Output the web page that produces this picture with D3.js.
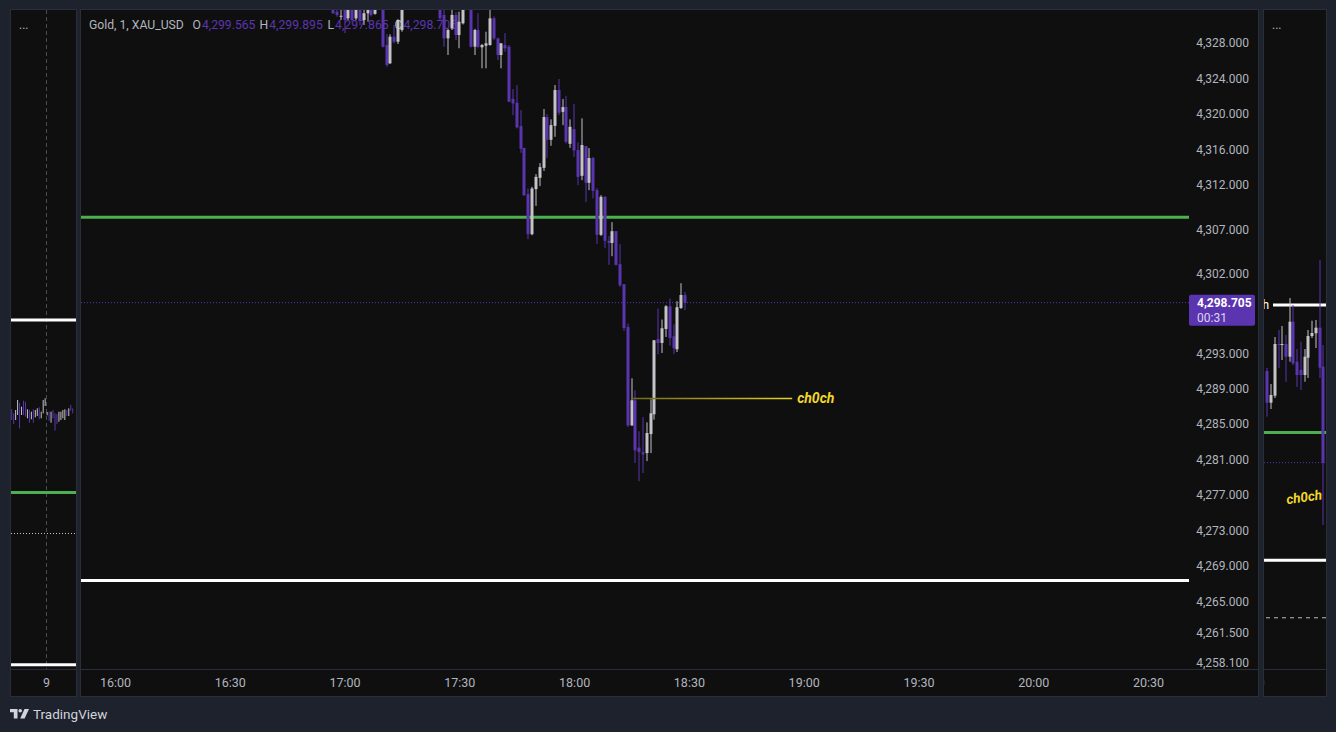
<!DOCTYPE html>
<html>
<head>
<meta charset="utf-8">
<script src="https://cdn.jsdelivr.net/npm/d3@7"></script>
<style>
html, body { margin: 0; padding: 0; background: #1e222d; overflow: hidden; }
svg { display: block; font-family: Roboto, "DejaVu Sans", sans-serif; }
</style>
</head>
<body>
<svg id="chart"></svg>
<script>
// ---- data ----
var symbolTitle = "Gold, 1, XAU_USD";
var legendKeys = ["O", "H", "L", "C"];
var legendValues = [4299.565, 4299.895, 4297.865, 4298.705];

var firstCandle = "16:57";   // 1 minute bars
var opens = [4332.3, 4331.54, 4331.02, 4331.9, 4330.79, 4331.9, 4330.79, 4331.9, 4330.6, 4331.36,
    4331.8, 4331.3, 4332.4, 4332.6, 4327.78, 4325.71, 4328.71, 4328.15, 4329.47, 4331.9,
    4332.6, 4333.8, 4333.2, 4334.9, 4334.3, 4333.4, 4333.9, 4332.8, 4332.4, 4331.17,
    4328.53, 4329.66, 4331.17, 4328.91, 4330.23, 4332.0, 4332.4, 4327.59, 4329.47, 4327.52,
    4327.7, 4327.78, 4330.79, 4328.53, 4326.65, 4327.78, 4327.59, 4321.68, 4321.26, 4318.63,
    4316.15, 4310.95, 4306.43, 4311.52, 4312.79, 4313.92, 4319.65, 4317.08, 4318.66, 4322.7,
    4320.24, 4320.78, 4316.63, 4318.29, 4315.92, 4313.02, 4316.37, 4312.23, 4315.02, 4311.4,
    4306.36, 4310.65, 4305.68, 4305.45, 4306.77, 4303.05, 4300.78, 4295.97, 4284.86, 4287.69,
    4282.35, 4281.82, 4281.74, 4283.88, 4286.11, 4294.58, 4294.16, 4295.74, 4298.3, 4294.92,
    4293.45, 4298.11, 4299.565];
var highs = [4332.8, 4332.0, 4332.0, 4332.2, 4332.3, 4332.4, 4332.3, 4332.2, 4331.9, 4332.4,
    4332.3, 4332.6, 4333.3, 4333.0, 4329.0, 4328.99, 4330.04, 4330.7, 4332.5, 4333.0,
    4334.1, 4334.6, 4335.2, 4335.6, 4334.8, 4334.2, 4334.3, 4333.6, 4332.8, 4331.8,
    4329.6, 4331.8, 4331.5, 4331.54, 4332.6, 4333.0, 4332.9, 4329.6, 4331.36, 4327.9,
    4329.28, 4331.73, 4331.0, 4328.6, 4328.0, 4329.13, 4327.78, 4322.81, 4323.26, 4320.44,
    4316.2, 4311.59, 4311.78, 4313.21, 4314.45, 4320.55, 4319.98, 4319.39, 4323.26, 4323.94,
    4321.68, 4322.02, 4319.39, 4321.12, 4316.79, 4319.5, 4316.4, 4316.15, 4315.17, 4311.63,
    4310.84, 4310.73, 4306.21, 4307.79, 4306.8, 4305.3, 4300.8, 4296.35, 4290.17, 4288.82,
    4284.19, 4285.8, 4285.2, 4287.8, 4294.5, 4298.04, 4296.8, 4298.42, 4299.17, 4296.27,
    4298.87, 4300.9, 4299.895];
var lows = [4331.28, 4330.97, 4330.6, 4329.13, 4330.6, 4330.41, 4330.6, 4330.04, 4330.04, 4330.41,
    4331.0, 4331.2, 4332.0, 4327.5, 4325.33, 4325.65, 4327.97, 4327.89, 4329.28, 4331.75,
    4332.3, 4333.0, 4333.0, 4334.0, 4333.1, 4332.6, 4332.5, 4332.1, 4330.6, 4327.59,
    4326.65, 4329.47, 4328.34, 4327.41, 4330.1, 4331.8, 4327.5, 4326.65, 4327.41, 4325.15,
    4325.15, 4327.7, 4328.34, 4326.08, 4325.15, 4327.02, 4321.35, 4319.87, 4318.37, 4315.62,
    4310.73, 4305.87, 4306.32, 4309.63, 4311.86, 4313.58, 4315.05, 4316.41, 4317.42, 4319.87,
    4318.74, 4316.68, 4316.18, 4315.17, 4311.97, 4312.53, 4310.08, 4311.4, 4310.47, 4305.34,
    4306.24, 4304.89, 4302.97, 4303.95, 4302.9, 4300.48, 4295.51, 4284.67, 4284.8, 4280.61,
    4278.57, 4279.48, 4280.83, 4281.74, 4285.51, 4292.88, 4293.03, 4294.84, 4293.86, 4292.92,
    4293.14, 4298.0, 4297.865];
var closes = [4331.36, 4331.17, 4331.08, 4330.6, 4331.9, 4330.6, 4331.9, 4330.6, 4331.36, 4331.9,
    4331.17, 4332.2, 4332.9, 4327.59, 4325.52, 4328.71, 4328.15, 4330.6, 4331.9, 4332.6,
    4333.8, 4333.2, 4334.9, 4334.3, 4333.4, 4333.9, 4332.8, 4332.5, 4330.79, 4328.53,
    4329.47, 4331.17, 4328.91, 4330.41, 4332.0, 4332.5, 4327.59, 4329.47, 4327.59, 4327.78,
    4327.97, 4330.79, 4328.53, 4326.65, 4327.97, 4327.41, 4321.38, 4321.19, 4318.48, 4316.07,
    4310.84, 4306.43, 4311.59, 4312.9, 4314.0, 4319.65, 4317.08, 4318.74, 4322.7, 4320.13,
    4320.78, 4316.86, 4318.55, 4315.89, 4312.9, 4316.49, 4312.23, 4315.02, 4311.32, 4306.36,
    4310.65, 4305.68, 4305.45, 4306.77, 4302.97, 4300.67, 4295.85, 4284.86, 4287.69, 4282.04,
    4281.85, 4281.59, 4284.0, 4286.22, 4294.46, 4294.16, 4295.82, 4298.3, 4294.72, 4293.56,
    4298.19, 4299.57, 4298.705];

var priceTicks = [4328, 4324, 4320, 4316, 4312, 4307, 4302, 4293, 4289, 4285, 4281, 4277, 4273, 4269, 4265, 4261.5, 4258.1];
var timeTicks = ["16:00", "16:30", "17:00", "17:30", "18:00", "18:30", "19:00", "19:30", "20:00", "20:30"];
var countdown = "00:31";

// horizontal levels
var greenLevel = 4308.35;
var whiteLevels = [4349.35, 4267.36];
var dashedLevel = 4249.05;
var chochLevel = 4287.9;
var chochStart = "18:15";
var chochEnd = "18:57";
var chochLabel = "ch0ch";

// left mini chart (bars, hi / lo / up)
var leftHighs = [4328.12, 4327.16, 4327.95, 4330.33, 4329.68, 4328.73, 4330.16, 4329.92, 4328.12, 4327.95,
    4327.54, 4328.12, 4327.95, 4328.35, 4328.59, 4327.54, 4330.33, 4330.73, 4327.47, 4327.54,
    4327.54, 4327.95, 4327.16, 4327.0, 4327.54, 4327.54, 4327.95, 4328.12, 4327.95, 4328.35,
    4329.14, 4328.35];
var leftLows = [4325.57, 4324.62, 4325.57, 4326.76, 4323.6, 4326.76, 4326.76, 4326.36, 4325.98, 4324.93,
    4325.74, 4324.93, 4326.21, 4326.52, 4325.74, 4325.98, 4327.16, 4328.9, 4326.69, 4325.4,
    4324.93, 4325.98, 4323.03, 4324.62, 4325.17, 4325.57, 4325.98, 4325.57, 4326.52, 4326.52,
    4327.78, 4327.16];
var leftUp = [0, 0, 1, 1, 0, 1, 0, 0, 1, 0, 1, 0, 1, 1, 0, 1, 1, 1, 1, 0, 1, 0, 0, 0, 1, 1, 1, 1, 0, 1, 0, 0];
var leftTimeLabel = "9";

// right mini chart (candles)
var rightOpens = [4328.14, 4317.96, 4320.21, 4336.81, 4336.49, 4336.81, 4332.73, 4343.97, 4331.13, 4328.5, 4326.86, 4332.41, 4339.38, 4340.25, 4342.05, 4329.52];
var rightHighs = [4329.10, 4323.96, 4339.06, 4341.31, 4342.59, 4339.70, 4351.58, 4349.34, 4335.20, 4337.55, 4335.20, 4341.31, 4344.30, 4344.52, 4363.79, 4336.49];
var rightLows = [4313.46, 4315.94, 4319.47, 4329.10, 4331.67, 4324.70, 4331.13, 4330.07, 4323.00, 4322.04, 4324.70, 4325.89, 4338.74, 4335.52, 4325.89, 4278.69];
var rightCloses = [4317.96, 4320.43, 4336.81, 4336.49, 4336.81, 4332.73, 4343.97, 4330.61, 4326.86, 4326.86, 4332.73, 4339.38, 4340.34, 4342.05, 4329.20, 4298.705];

// ---- colours ----
var bgColor = "#0f0f0f";
var frameColor = "#2a2e39";
var upColor = "#c4c4c8";
var downColor = "#5b35b0";
var textColor = "#b2b5be";
var greenColor = "#4caf50";
var yellowColor = "#f2d72a";

var width = 1336, height = 732;
var svg = d3.select("#chart").attr("width", width).attr("height", height);
var defs = svg.append("defs");

function addClip(id, x, y, w, h) {
    defs.append("clipPath").attr("id", id)
        .append("rect").attr("x", x).attr("y", y).attr("width", w).attr("height", h);
}
addClip("clipMain", 81, 10, 1108, 659);
addClip("clipLeft", 11, 10, 65, 659);
addClip("clipRight", 1264, 10, 62, 659);
addClip("clipRightAxis", 1264, 669, 62, 27);

var grad = defs.append("linearGradient").attr("id", "chochGrad")
    .attr("gradientUnits", "userSpaceOnUse").attr("x1", 630).attr("x2", 795).attr("y1", 0).attr("y2", 0);
grad.append("stop").attr("offset", "0%").attr("stop-color", "#6e661c");
grad.append("stop").attr("offset", "100%").attr("stop-color", "#e8d324");

// ---- panels ----
svg.append("rect").attr("width", width).attr("height", height).style("fill", "#1e222d");
var panels = [[10.5, 9.5, 66, 687], [80.5, 9.5, 1178, 687], [1263.5, 9.5, 63, 687]];
panels.forEach(function (p) {
    svg.append("rect").attr("x", p[0]).attr("y", p[1]).attr("width", p[2]).attr("height", p[3])
        .style("fill", bgColor).style("stroke", frameColor).style("stroke-width", 1);
    svg.append("line").attr("x1", p[0]).attr("x2", p[0] + p[2]).attr("y1", 669.5).attr("y2", 669.5)
        .style("stroke", frameColor).style("stroke-width", 1);
});

// ---- scales ----
var parseTime = d3.timeParse("%H:%M");
var x = d3.scaleTime().domain([parseTime("16:00"), parseTime("20:30")]).range([115, 1148]);
var y = d3.scaleLinear().domain([4331.73, 4257.37]).range([10, 669]);
var t0 = parseTime(firstCandle);

var candles = opens.map(function (o, i) {
    return { t: d3.timeMinute.offset(t0, i), o: o, h: highs[i], l: lows[i], c: closes[i] };
});

// ---- legend (drawn under the candles) ----
var legend = svg.append("g").style("font-size", "12.2px");
legend.append("text").attr("x", 89).attr("y", 28.5).style("fill", textColor).text(symbolTitle);
var legendX = [192.5, 259.5, 327.5, 394.5];
legendKeys.forEach(function (k, i) {
    var t = legend.append("text").attr("x", legendX[i]).attr("y", 28.5);
    t.append("tspan").style("fill", textColor).text(k);
    t.append("tspan").attr("dx", 1).style("fill", downColor).text(d3.format(",.3f")(legendValues[i]));
});

// ---- main chart ----
var main = svg.append("g").attr("clip-path", "url(#clipMain)");

// levels
main.append("line").attr("x1", 81).attr("x2", 1189).attr("y1", y(greenLevel)).attr("y2", y(greenLevel))
    .style("stroke", greenColor).style("stroke-width", 3);
main.append("line").attr("x1", 81).attr("x2", 1189).attr("y1", y(whiteLevels[1])).attr("y2", y(whiteLevels[1]))
    .style("stroke", "#ffffff").style("stroke-width", 3);
main.append("line").attr("x1", 81).attr("x2", 1189).attr("y1", y(legendValues[3])).attr("y2", y(legendValues[3]))
    .style("stroke", downColor).style("stroke-width", 1).style("stroke-dasharray", "1,2");

// candles
var bar = main.selectAll("g.candle").data(candles).enter().append("g").attr("class", "candle");
bar.append("rect")
    .attr("x", function (d) { return Math.round(x(d.t)) - 0.5; })
    .attr("y", function (d) { return y(d.h); })
    .attr("width", 1)
    .attr("height", function (d) { return Math.max(1, y(d.l) - y(d.h)); })
    .style("fill", function (d) { return d.c >= d.o ? upColor : downColor; });
bar.append("rect")
    .attr("x", function (d) { return Math.round(x(d.t)) - 1.5; })
    .attr("y", function (d) { return y(Math.max(d.o, d.c)); })
    .attr("width", 3)
    .attr("height", function (d) { return Math.max(1, Math.abs(y(d.o) - y(d.c))); })
    .style("fill", function (d) { return d.c >= d.o ? upColor : downColor; });

// choch
main.append("line")
    .attr("x1", x(parseTime(chochStart))).attr("x2", x(parseTime(chochEnd)))
    .attr("y1", y(chochLevel)).attr("y2", y(chochLevel))
    .style("stroke", "url(#chochGrad)").style("stroke-width", 1.5);
main.append("text")
    .attr("x", x(parseTime(chochEnd)) + 5).attr("y", y(chochLevel)).attr("dy", "0.35em")
    .style("fill", yellowColor).style("font-size", "14px").style("font-weight", "bold").style("font-style", "italic")
    .text(chochLabel);

// price axis
var yAxis = svg.append("g").attr("transform", "translate(1255,0)")
    .call(d3.axisLeft(y).tickValues(priceTicks).tickFormat(d3.format(",.3f")).tickSize(0).tickPadding(6));
yAxis.select(".domain").remove();
yAxis.selectAll("text").style("fill", textColor).style("font-size", "12px").style("font-family", "Roboto, sans-serif");

// last price label
var yLast = y(legendValues[3]);
svg.append("rect").attr("x", 1189).attr("y", yLast - 8).attr("width", 66).attr("height", 31).attr("rx", 2)
    .style("fill", downColor);
svg.append("text").attr("x", 1197).attr("y", yLast + 4).style("fill", "#ffffff").style("font-size", "12px")
    .style("font-weight", "bold").text(d3.format(",.3f")(legendValues[3]));
svg.append("text").attr("x", 1197).attr("y", yLast + 19).style("fill", "#ddd6f0").style("font-size", "12px")
    .text(countdown);

// time axis
var xAxis = svg.append("g").attr("transform", "translate(0,669)")
    .call(d3.axisBottom(x).tickValues(timeTicks.map(parseTime)).tickFormat(d3.timeFormat("%H:%M")).tickSize(0).tickPadding(9));
xAxis.select(".domain").remove();
xAxis.selectAll("text").style("fill", textColor).style("font-size", "12.5px").style("font-family", "Roboto, sans-serif");

// ---- left mini chart ----
var yLeft = d3.scaleLinear().domain([4423.05, 4266.37]).range([10, 669]);
var xLeft = d3.scalePoint().domain(d3.range(leftHighs.length)).range([11.7, 72.7]);
var left = svg.append("g").attr("clip-path", "url(#clipLeft)");
left.append("line").attr("x1", 46.5).attr("x2", 46.5).attr("y1", 10).attr("y2", 669)
    .style("stroke", "#4a4d55").style("stroke-dasharray", "4,3");
whiteLevels.forEach(function (v) {
    left.append("line").attr("x1", 11).attr("x2", 76).attr("y1", yLeft(v)).attr("y2", yLeft(v))
        .style("stroke", "#ffffff").style("stroke-width", 3);
});
left.append("line").attr("x1", 11).attr("x2", 76).attr("y1", yLeft(greenLevel)).attr("y2", yLeft(greenLevel))
    .style("stroke", greenColor).style("stroke-width", 3);
left.append("line").attr("x1", 11).attr("x2", 76).attr("y1", yLeft(legendValues[3]) + 0.5).attr("y2", yLeft(legendValues[3]) + 0.5)
    .style("stroke", "#c8c8c8").style("stroke-dasharray", "1,2");
left.selectAll("rect.bar").data(leftHighs).enter().append("rect").attr("class", "bar")
    .attr("x", function (d, i) { return xLeft(i) - 0.5; })
    .attr("y", function (d) { return yLeft(d); })
    .attr("width", 1)
    .attr("height", function (d, i) { return yLeft(leftLows[i]) - yLeft(d); })
    .style("fill", function (d, i) { return leftUp[i] ? upColor : downColor; });
svg.append("text").attr("x", 19).attr("y", 29).style("fill", textColor).style("font-size", "12px").text("...");
svg.append("text").attr("x", 46.5).attr("y", 687).attr("text-anchor", "middle")
    .style("fill", textColor).style("font-size", "12.5px").text(leftTimeLabel);

// ---- right mini chart ----
var yRight = d3.scaleLinear().domain([4444.07, 4232.44]).range([10, 669]);
var xRight = d3.scaleLinear().domain([0, rightOpens.length - 1]).range([1267.3, 1323.3]);
var right = svg.append("g").attr("clip-path", "url(#clipRight)");
right.append("line").attr("x1", 1273).attr("x2", 1326).attr("y1", yRight(whiteLevels[0])).attr("y2", yRight(whiteLevels[0]))
    .style("stroke", "#ffffff").style("stroke-width", 3);
right.append("text").attr("x", 1269).attr("y", yRight(whiteLevels[0])).attr("dy", "0.35em").attr("text-anchor", "end")
    .style("fill", "#ffffff").style("font-size", "12px").text("ch");
right.append("line").attr("x1", 1264).attr("x2", 1326).attr("y1", yRight(whiteLevels[1])).attr("y2", yRight(whiteLevels[1]))
    .style("stroke", "#ffffff").style("stroke-width", 3);
right.append("line").attr("x1", 1264).attr("x2", 1326).attr("y1", yRight(greenLevel)).attr("y2", yRight(greenLevel))
    .style("stroke", greenColor).style("stroke-width", 3);
right.append("line").attr("x1", 1264).attr("x2", 1326).attr("y1", yRight(legendValues[3])).attr("y2", yRight(legendValues[3]))
    .style("stroke", downColor).style("stroke-dasharray", "1,2");
right.append("line").attr("x1", 1266).attr("x2", 1326).attr("y1", yRight(dashedLevel) + 0.5).attr("y2", yRight(dashedLevel) + 0.5)
    .style("stroke", "#b8b8b8").style("stroke-dasharray", "4,4");
rightOpens.forEach(function (o, i) {
    var c = rightCloses[i];
    var col = c >= o ? upColor : downColor;
    var cx = Math.round(xRight(i));
    right.append("rect").attr("x", cx - 0.5).attr("y", yRight(rightHighs[i])).attr("width", 1)
        .attr("height", yRight(rightLows[i]) - yRight(rightHighs[i])).style("fill", col);
    right.append("rect").attr("x", cx - 1.5).attr("y", yRight(Math.max(o, c))).attr("width", 3)
        .attr("height", Math.max(1, Math.abs(yRight(o) - yRight(c)))).style("fill", col);
});
right.append("text")
    .attr("transform", "translate(1287," + (yRight(chochLevel) + 8) + ") rotate(-8)")
    .style("fill", yellowColor).style("font-size", "13.5px").style("font-weight", "bold").style("font-style", "italic")
    .text(chochLabel);
svg.append("text").attr("x", 1272).attr("y", 29).style("fill", textColor).style("font-size", "12px").text("...");
svg.append("g").attr("clip-path", "url(#clipRightAxis)")
    .append("text").attr("x", 1261).attr("y", 687).attr("text-anchor", "middle")
    .style("fill", textColor).style("font-size", "12.5px").text("0");

// ---- footer ----
var logo = svg.append("g").style("fill", "#d1d4dc");
logo.append("path").attr("d", "M10,709 H17.5 V718.5 H13.8 V712.3 H10 Z");
logo.append("circle").attr("cx", 20.2).attr("cy", 710.8).attr("r", 1.8);
logo.append("path").attr("d", "M24.5,709 H29 L24.6,718.5 H20.2 Z");
svg.append("text").attr("x", 33).attr("y", 718.5).style("fill", "#d1d4dc").style("font-size", "13.5px")
    .text("TradingView");
</script>
</body>
</html>
